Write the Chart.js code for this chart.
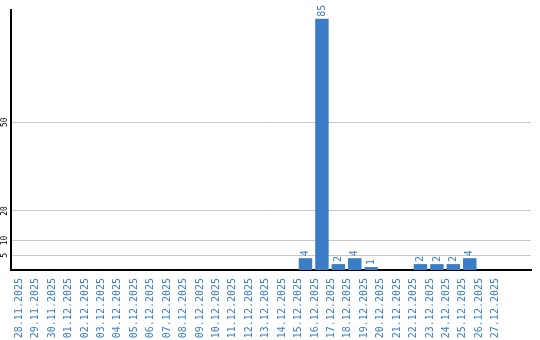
<!DOCTYPE html>
<html>
<head>
<meta charset="utf-8">
<script src="https://cdn.jsdelivr.net/npm/chart.js@4"></script>
<style>
  html, body { margin: 0; padding: 0; background: #fff; }
  #wrap { width: 540px; height: 340px; }
</style>
</head>
<body>
<div id="wrap"><canvas id="chart" width="540" height="340"></canvas></div>
<script>
const days = [
  "28.11.2025", "29.11.2025", "30.11.2025", "01.12.2025", "02.12.2025",
  "03.12.2025", "04.12.2025", "05.12.2025", "06.12.2025", "07.12.2025",
  "08.12.2025", "09.12.2025", "10.12.2025", "11.12.2025", "12.12.2025",
  "13.12.2025", "14.12.2025", "15.12.2025", "16.12.2025", "17.12.2025",
  "18.12.2025", "19.12.2025", "20.12.2025", "21.12.2025", "22.12.2025",
  "23.12.2025", "24.12.2025", "25.12.2025", "26.12.2025", "27.12.2025"
];
const counts = [
  0, 0, 0, 0, 0, 0, 0, 0, 0, 0,
  0, 0, 0, 0, 0, 0, 0, 4, 85, 2,
  4, 1, 0, 0, 2, 2, 2, 4, 0, 0
];
const yTicks = [5, 10, 20, 50];

const blue = "#3b7dc4";
const mono = "'DejaVu Sans Mono'";

// value labels above bars, rotated
const barLabels = {
  id: "barLabels",
  afterDatasetsDraw(chart) {
    const ctx = chart.ctx;
    const meta = chart.getDatasetMeta(0);
    ctx.save();
    ctx.fillStyle = blue;
    ctx.font = "10px " + mono;
    ctx.textAlign = "left";
    ctx.textBaseline = "middle";
    meta.data.forEach((bar, i) => {
      if (!counts[i]) return;
      ctx.save();
      ctx.translate(bar.x, bar.y - 2);
      ctx.rotate(-Math.PI / 2);
      ctx.fillText(String(counts[i]), 0, 0);
      ctx.restore();
    });
    ctx.restore();
  }
};

new Chart(document.getElementById("chart"), {
  type: "bar",
  data: {
    datasets: [{
      data: counts.map((v, i) => ({ x: i, y: v })),
      backgroundColor: blue,
      borderWidth: 0,
      barPercentage: 0.82,
      categoryPercentage: 1
    }]
  },
  options: {
    responsive: false,
    animation: false,
    layout: { padding: { top: 10, right: 9, left: 0, bottom: 0 } },
    plugins: { legend: { display: false }, tooltip: { enabled: false } },
    scales: {
      x: {
        type: "linear",
        min: -0.4,
        max: 30.2,
        afterBuildTicks: s => { s.ticks = days.map((_, i) => ({ value: i })); },
        afterFit: s => { s.height = 70; },
        grid: { display: false },
        border: { display: true, color: "#000", width: 2 },
        ticks: {
          autoSkip: false,
          minRotation: 90,
          maxRotation: 90,
          padding: 0,
          labelOffset: -7,
          color: blue,
          font: { family: mono, size: 10 },
          callback: v => days[v]
        }
      },
      y: {
        min: 0,
        max: 88,
        afterBuildTicks: s => { s.ticks = yTicks.map(v => ({ value: v })); },
        afterFit: s => { s.width = 11; },
        grid: { color: "#c8c8c8", lineWidth: 1, drawTicks: false },
        border: { display: true, color: "#000", width: 2 },
        ticks: {
          minRotation: 90,
          maxRotation: 90,
          crossAlign: "center",
          padding: 1,
          color: "#000",
          font: { family: mono, size: 8 }
        }
      }
    }
  },
  plugins: [barLabels]
});
</script>
</body>
</html>
